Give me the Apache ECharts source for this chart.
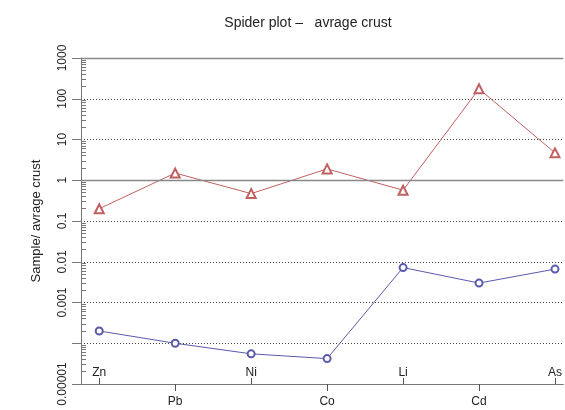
<!DOCTYPE html>
<html>
<head>
<meta charset="utf-8">
<script src="https://cdn.jsdelivr.net/npm/echarts@6/dist/echarts.min.js"></script>
<style>
html,body{margin:0;padding:0;background:#fff;}
#chart{width:565px;height:410px;}
</style>
</head>
<body>
<div id="chart"></div>
<script>
var categories = ['Zn', 'Pb', 'Ni', 'Co', 'Li', 'Cd', 'As'];
var crustValues = [0.2, 1.5, 0.47, 1.9, 0.57, 175, 4.7];
var sampleValues = [0.0002, 0.0001, 0.000055, 0.000042, 0.0072, 0.003, 0.0066];
var yTickExponents = [-5, -4, -3, -2, -1, 0, 1, 2, 3];
var yTickLabels = ['0.00001', '', '0.001', '0.01', '0.1', '1', '10', '100', '1000'];
var solidLevels = [1, 1000];
var lowerLabelIdx = [0, 2, 4, 6];
var upperLabelIdx = [1, 3, 5];

var minorTicks = [];
for (var e = -5; e < 3; e++) {
  for (var k = 2; k <= 9; k++) minorTicks.push(k * Math.pow(10, e));
}

var font = 'Liberation Sans, Arial, sans-serif';
var chart = echarts.init(document.getElementById('chart'), null, {renderer: 'canvas'});

function yLabel(v) {
  var ex = Math.round(Math.log10(v));
  var i = yTickExponents.indexOf(ex);
  return i >= 0 ? yTickLabels[i] : '';
}

var xMin = -0.24, xMax = 6.11;

var option = {
  backgroundColor: '#fff',
  animation: false,
  title: {
    text: 'Spider plot \u2013   avrage crust',
    left: 303,
    top: 11,
    textAlign: 'center',
    textStyle: {fontFamily: font, fontSize: 14, fontWeight: 'normal', color: '#222'}
  },
  grid: {left: 81, top: 58, right: 0, height: 326, containLabel: false},
  xAxis: [
    {
      type: 'value', min: xMin, max: xMax, position: 'bottom',
      axisLine: {show: true, onZero: false, lineStyle: {color: '#777', width: 1}},
      axisTick: {show: true, inside: true, length: 6, customValues: lowerLabelIdx, lineStyle: {color: '#555'}},
      axisLabel: {show: true, inside: true, margin: 5, customValues: lowerLabelIdx,
        formatter: function (v) { return categories[Math.round(v)]; },
        fontFamily: font, fontSize: 12, color: '#222'},
      splitLine: {show: false}
    },
    {
      type: 'value', min: xMin, max: xMax, position: 'bottom',
      axisLine: {show: false, onZero: false},
      axisTick: {show: true, inside: false, length: 7, customValues: upperLabelIdx, lineStyle: {color: '#555'}},
      axisLabel: {show: true, margin: 12, customValues: upperLabelIdx,
        formatter: function (v) { return categories[Math.round(v)]; },
        fontFamily: font, fontSize: 12, color: '#222'},
      splitLine: {show: false}
    }
  ],
  yAxis: [
    {
      type: 'log', logBase: 10, min: 0.00001, max: 1000, splitNumber: 8, position: 'left',
      name: 'Sample/ avrage crust', nameLocation: 'middle', nameGap: 38,
      nameTextStyle: {fontFamily: font, fontSize: 13, color: '#222'},
      axisLine: {show: true, onZero: false, lineStyle: {color: '#777', width: 1}},
      axisTick: {show: true, inside: false, length: 9, lineStyle: {color: '#777'}},
      axisLabel: {show: true, rotate: 90, margin: 12, formatter: yLabel,
        fontFamily: font, fontSize: 12, color: '#222'},
      splitLine: {show: true, lineStyle: {color: '#444', width: 1, type: [1, 2]}}
    },
    {
      type: 'log', logBase: 10, min: 0.00001, max: 1000, position: 'left',
      axisLine: {show: false, onZero: false},
      axisTick: {show: true, inside: true, length: 5, customValues: minorTicks, lineStyle: {color: '#777'}},
      axisLabel: {show: false},
      splitLine: {show: false}
    }
  ],
  series: [
    {
      type: 'line', xAxisIndex: 0, yAxisIndex: 0,
      data: categories.map(function (c, i) { return [i, crustValues[i]]; }),
      symbol: 'emptyTriangle', symbolSize: 9,
      lineStyle: {color: '#c06060', width: 1},
      itemStyle: {color: '#c06060', borderColor: '#c06060', borderWidth: 0.9},
      markLine: {
        silent: true, symbol: ['none', 'none'], label: {show: false},
        lineStyle: {color: '#888', width: 1.3, type: 'solid'},
        data: solidLevels.map(function (v) { return {yAxis: v}; })
      },
      z: 3
    },
    {
      type: 'line', xAxisIndex: 0, yAxisIndex: 0,
      data: categories.map(function (c, i) { return [i, sampleValues[i]]; }),
      symbol: 'emptyCircle', symbolSize: 7,
      lineStyle: {color: '#5a5aaa', width: 1},
      itemStyle: {color: '#5a5aaa', borderColor: '#5a5aaa', borderWidth: 0.9},
      z: 3
    }
  ]
};
chart.setOption(option);
</script>
</body>
</html>
